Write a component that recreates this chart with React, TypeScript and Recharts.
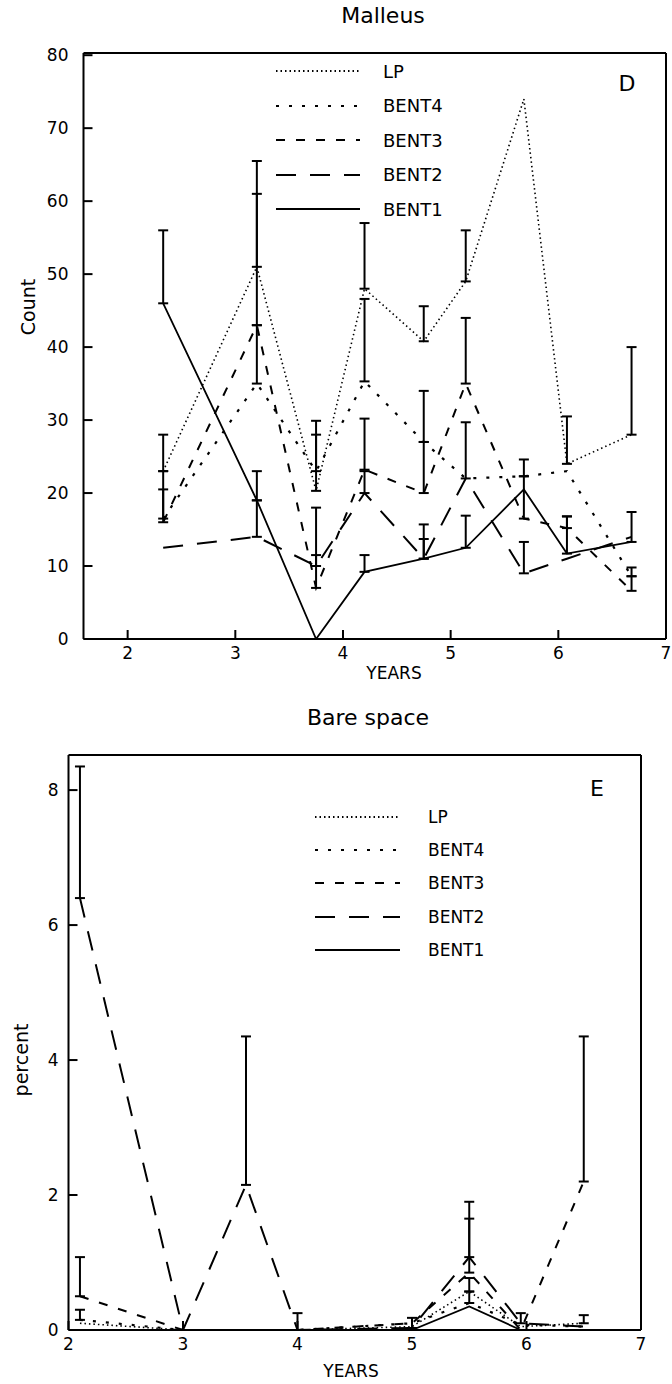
import React from 'react';
import { LineChart, Line, XAxis, YAxis, ErrorBar, Legend } from 'recharts';

// Panel D - Malleus (counts)
const yearsD = [2.33, 3.2, 3.75, 4.2, 4.75, 5.14, 5.68, 6.08, 6.68];
const lpD = [23, 51, 20.3, 48, 40.8, 49, 74, 24, 28];
const lpErrD = [5, 14.5, 9.6, 9, 4.8, 7, null, 6.5, 12];
const bent4D = [16.5, 35, 23, 35.3, 27, 22, 22.3, 23, 8.6];
const bent4ErrD = [4, 8, 5, 11.3, 7, null, 2.3, null, 1.2];
const bent3D = [16, 43, 7, 23.2, 20, 35, 16.5, 15.2, 6.6];
const bent3ErrD = [7, 18, 11, 7, 7, 9, 5.8, 1.6, 2];
const bent2D = [12.5, 14, 10, 20, 11, 22, 9, 11, 14];
const bent2ErrD = [null, 5, 1.5, 3, 4.7, 7.7, 4.3, null, null];
const bent1D = [46, 19, 0, 9.2, 11, 12.5, 20.5, 11.7, 13.3];
const bent1ErrD = [10, 4, null, 2.3, 2.7, 4.4, null, 5.1, 4.1];

// Panel E - Bare space (percent)
const yearsE = [2.1, 3.0, 3.55, 4.0, 5.0, 5.5, 5.95, 6.5];
const lpE = [0.1, 0, 0, 0, 0.05, 0.57, 0.05, 0.1];
const lpErrE = [null, null, null, null, null, 0.2, null, 0.12];
const bent4E = [0.15, 0, 0, 0, 0.1, 0.4, 0.08, 0.05];
const bent4ErrE = [0.15, null, null, null, null, 0.17, null, null];
const bent3E = [0.5, 0, 0, 0, 0.1, 0.85, 0, 2.2];
const bent3ErrE = [0.58, null, null, null, null, 0.8, null, 2.15];
const bent2E = [6.4, 0, 2.15, 0, 0.03, 1.08, 0.1, 0.05];
const bent2ErrE = [1.95, null, 2.2, 0.25, 0.15, 0.82, 0.15, null];
const bent1E = [0, 0, 0, 0, 0, 0.35, 0, 0];
const bent1ErrE = [null, null, null, null, null, null, null, null];

const ticksD = [0, 10, 20, 30, 40, 50, 60, 70, 80];
const ticksE = [0, 2, 4, 6, 8];

const FONT = '"DejaVu Sans", sans-serif';

const series = [
  { key: 'lp', name: 'LP', dash: '1.5 3', width: 1.6 },
  { key: 'bent4', name: 'BENT4', dash: '3 10', width: 2.2 },
  { key: 'bent3', name: 'BENT3', dash: '9 11', width: 2 },
  { key: 'bent2', name: 'BENT2', dash: '20 14', width: 2 },
  { key: 'bent1', name: 'BENT1', dash: undefined, width: 1.8 },
];

const err = (v: number | null) => (v == null ? null : [0, v]);

const rowsD = yearsD.map((x, i) => ({
  x,
  lp: lpD[i], lpErr: err(lpErrD[i]),
  bent4: bent4D[i], bent4Err: err(bent4ErrD[i]),
  bent3: bent3D[i], bent3Err: err(bent3ErrD[i]),
  bent2: bent2D[i], bent2Err: err(bent2ErrD[i]),
  bent1: bent1D[i], bent1Err: err(bent1ErrD[i]),
}));

const rowsE = yearsE.map((x, i) => ({
  x,
  lp: lpE[i], lpErr: err(lpErrE[i]),
  bent4: bent4E[i], bent4Err: err(bent4ErrE[i]),
  bent3: bent3E[i], bent3Err: err(bent3ErrE[i]),
  bent2: bent2E[i], bent2Err: err(bent2ErrE[i]),
  bent1: bent1E[i], bent1Err: err(bent1ErrE[i]),
}));

const axisStroke = { stroke: '#000', strokeWidth: 2 };
const tickStyle = { fontSize: 17, fill: '#000', fontFamily: FONT };

const LegendBox = ({ rowH, lineW, gap, fontSize }: any) => (
  <div style={{ fontFamily: FONT, fontSize, color: '#000' }}>
    {series.map((s) => (
      <div key={s.key} style={{ height: rowH, display: 'flex', alignItems: 'center' }}>
        <svg width={lineW} height={6}>
          <line x1={0} y1={3} x2={lineW} y2={3} stroke="#000" strokeWidth={2.2} strokeDasharray={s.dash} />
        </svg>
        <span style={{ marginLeft: gap }}>{s.name}</span>
      </div>
    ))}
  </div>
);

const Txt = ({ x, y, size, rotate, children }: any) => (
  <div
    style={{
      position: 'absolute', left: x, top: y, fontFamily: FONT, fontSize: size, color: '#000',
      whiteSpace: 'nowrap', transform: `translate(-50%, -50%)${rotate ? ' rotate(-90deg)' : ''}`,
    }}
  >
    {children}
  </div>
);

const renderLines = () =>
  series.map((s) => (
    <Line
      key={s.key}
      xAxisId="b"
      yAxisId="l"
      type="linear"
      dataKey={s.key}
      name={s.name}
      stroke="#000"
      strokeWidth={s.width}
      strokeDasharray={s.dash}
      dot={false}
      activeDot={false}
      isAnimationActive={false}
    >
      <ErrorBar dataKey={s.key + 'Err'} direction="y" width={5} stroke="#000" strokeWidth={2} isAnimationActive={false} />
    </Line>
  ));

export default function App() {
  return (
    <div style={{ position: 'absolute', left: 0, top: 0, width: 672, height: 1384, background: '#fff', overflow: 'hidden' }}>
      <div style={{ position: 'absolute', left: 0, top: 0 }}>
        <LineChart width={672} height={692} data={rowsD} margin={{ top: 52, right: 5, bottom: 13, left: 23.5 }}>
          <XAxis xAxisId="b" dataKey="x" type="number" domain={[1.59, 7]} allowDataOverflow ticks={[2, 3, 4, 5, 6, 7]}
            height={40} tickSize={-9} tickMargin={17} axisLine={axisStroke} tickLine={axisStroke} tick={tickStyle} />
          <XAxis xAxisId="t" orientation="top" dataKey="x" type="number" domain={[1.59, 7]} allowDataOverflow ticks={[2, 3, 4, 5, 6]}
            height={1} tickSize={-9} tick={false} axisLine={axisStroke} tickLine={axisStroke} />
          <YAxis yAxisId="l" type="number" domain={[0, 80.3]} allowDataOverflow ticks={ticksD}
            width={60} tickSize={-9} tickMargin={24} axisLine={axisStroke} tickLine={axisStroke} tick={tickStyle} />
          <YAxis yAxisId="r" orientation="right" type="number" domain={[0, 80.3]} allowDataOverflow ticks={ticksD}
            width={1} tickSize={-9} tick={false} axisLine={axisStroke} tickLine={axisStroke} />
          {renderLines()}
          <Legend layout="vertical" align="center" verticalAlign="middle"
            wrapperStyle={{ left: 276, top: 54, width: 200, height: 175 }}
            content={() => <LegendBox rowH={34.5} lineW={84} gap={23} fontSize={18} />} />
        </LineChart>
        <Txt x={383} y={15} size={22}>Malleus</Txt>
        <Txt x={627} y={83} size={22}>D</Txt>
        <Txt x={28} y={307} size={19} rotate>Count</Txt>
        <Txt x={394} y={673} size={17}>YEARS</Txt>
      </div>
      <div style={{ position: 'absolute', left: 0, top: 692 }}>
        <LineChart width={672} height={692} data={rowsE} margin={{ top: 62, right: 30, bottom: 14, left: 8.5 }}>
          <XAxis xAxisId="b" dataKey="x" type="number" domain={[2, 7]} allowDataOverflow ticks={[2, 3, 4, 5, 6, 7]}
            height={40} tickSize={-9} tickMargin={17} axisLine={axisStroke} tickLine={axisStroke} tick={tickStyle} />
          <XAxis xAxisId="t" orientation="top" dataKey="x" type="number" domain={[2, 7]} allowDataOverflow ticks={[3, 4, 5, 6]}
            height={1} tickSize={-9} tick={false} axisLine={axisStroke} tickLine={axisStroke} />
          <YAxis yAxisId="l" type="number" domain={[0, 8.52]} allowDataOverflow ticks={ticksE}
            width={60} tickSize={-9} tickMargin={19} axisLine={axisStroke} tickLine={axisStroke} tick={tickStyle} />
          <YAxis yAxisId="r" orientation="right" type="number" domain={[0, 8.52]} allowDataOverflow ticks={ticksE}
            width={1} tickSize={-9} tick={false} axisLine={axisStroke} tickLine={axisStroke} />
          {renderLines()}
          <Legend layout="vertical" align="center" verticalAlign="middle"
            wrapperStyle={{ left: 315, top: 108, width: 200, height: 170 }}
            content={() => <LegendBox rowH={33.3} lineW={85} gap={28} fontSize={17} />} />
        </LineChart>
        <Txt x={368} y={25} size={22}>Bare space</Txt>
        <Txt x={597} y={96} size={22}>E</Txt>
        <Txt x={21} y={368} size={19} rotate>percent</Txt>
        <Txt x={351} y={679} size={17}>YEARS</Txt>
      </div>
    </div>
  );
}
